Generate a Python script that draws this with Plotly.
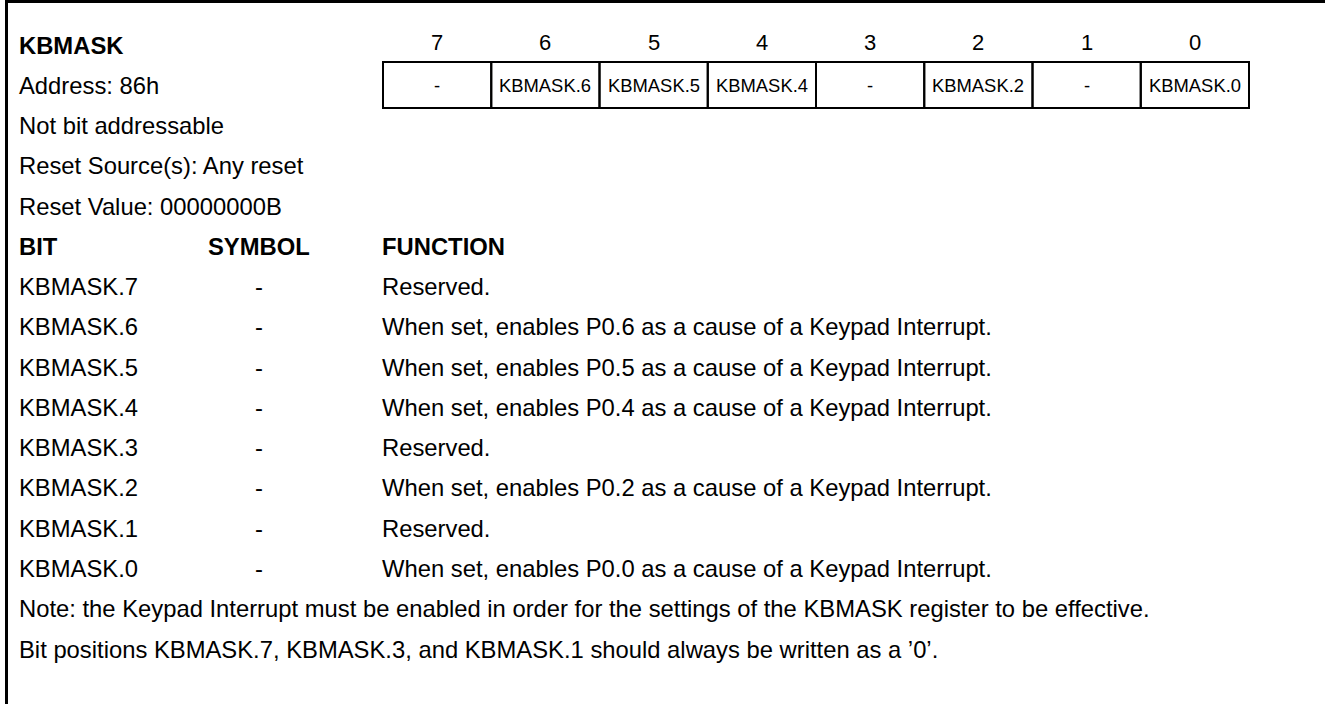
import plotly.graph_objects as go

# ---------------- data ----------------
register_name = "KBMASK"
bit_positions = ["7", "6", "5", "4", "3", "2", "1", "0"]
bit_cells = ["-", "KBMASK.6", "KBMASK.5", "KBMASK.4", "-", "KBMASK.2", "-", "KBMASK.0"]
info_lines = [
    "Address: 86h",
    "Not bit addressable",
    "Reset Source(s): Any reset",
    "Reset Value: 00000000B",
]
header_labels = ["BIT", "SYMBOL", "FUNCTION"]
bit_names = ["KBMASK.7", "KBMASK.6", "KBMASK.5", "KBMASK.4",
             "KBMASK.3", "KBMASK.2", "KBMASK.1", "KBMASK.0"]
symbols = ["-", "-", "-", "-", "-", "-", "-", "-"]
functions = [
    "Reserved.",
    "When set, enables P0.6 as a cause of a Keypad Interrupt.",
    "When set, enables P0.5 as a cause of a Keypad Interrupt.",
    "When set, enables P0.4 as a cause of a Keypad Interrupt.",
    "Reserved.",
    "When set, enables P0.2 as a cause of a Keypad Interrupt.",
    "Reserved.",
    "When set, enables P0.0 as a cause of a Keypad Interrupt.",
]
notes = [
    "Note: the Keypad Interrupt must be enabled in order for the settings of the KBMASK register to be effective.",
    "Bit positions KBMASK.7, KBMASK.3, and KBMASK.1 should always be written as a \u20190\u2019.",
]

# ---------------- layout constants ----------------
W, H = 1325, 704
FONT = "Liberation Sans, Arial, sans-serif"
FS = 23.8
ROW0 = 45.0
ROW_STEP = 40.27
LEFT = 18
SYM_X = 259
FUNC_X = 381
BOX_L, BOX_R = 383, 1249
BOX_T, BOX_B = 62, 108
CELL_W = (BOX_R - BOX_L) / len(bit_cells)


def row_y(i):
    return ROW0 + ROW_STEP * i


annotations = []
shapes = []


def txt(x, y, s, size=FS, bold=False, anchor="left"):
    annotations.append(dict(
        x=x, y=y, xref="x", yref="y", text=("<b>%s</b>" % s) if bold else s,
        showarrow=False, xanchor=anchor, yanchor="middle",
        font=dict(family=FONT, size=size, color="black"),
        borderpad=0,
    ))


# title
txt(LEFT, row_y(0), register_name, bold=True)

# bit numbers and register cells
for i, (num, cell) in enumerate(zip(bit_positions, bit_cells)):
    cx = BOX_L + CELL_W * (i + 0.5)
    txt(cx, 42, num, size=22, anchor="center")
    txt(cx, (BOX_T + BOX_B) / 2, cell, size=18.4, anchor="center")
    shapes.append(dict(type="rect", xref="x", yref="y",
                       x0=BOX_L + CELL_W * i, x1=BOX_L + CELL_W * (i + 1),
                       y0=BOX_T, y1=BOX_B, line=dict(color="black", width=2)))

# info lines
for k, s in enumerate(info_lines):
    txt(LEFT, row_y(1 + k), s)

# headers
hy = row_y(1 + len(info_lines))
txt(LEFT, hy, header_labels[0], bold=True)
txt(SYM_X, hy, header_labels[1], bold=True, anchor="center")
txt(FUNC_X, hy, header_labels[2], bold=True)

# bit rows
base = 2 + len(info_lines)
for k, (b, s, f) in enumerate(zip(bit_names, symbols, functions)):
    y = row_y(base + k)
    txt(LEFT, y, b)
    txt(SYM_X, y, s, anchor="center")
    txt(FUNC_X, y, f)

# notes
for k, s in enumerate(notes):
    txt(LEFT, row_y(base + len(bit_names) + k), s)

# outer frame (top and left edges)
shapes.append(dict(type="line", xref="x", yref="y", x0=5, x1=W, y0=1.5, y1=1.5,
                   line=dict(color="black", width=3)))
shapes.append(dict(type="line", xref="x", yref="y", x0=6.5, x1=6.5, y0=0, y1=H,
                   line=dict(color="black", width=3)))

fig = go.Figure()
fig.update_layout(
    width=W, height=H, margin=dict(l=0, r=0, t=0, b=0),
    paper_bgcolor="white", plot_bgcolor="white",
    xaxis=dict(range=[0, W], visible=False, fixedrange=True),
    yaxis=dict(range=[H, 0], visible=False, fixedrange=True),
    annotations=annotations, shapes=shapes, showlegend=False,
)
fig.write_html("out.html",
               config={"displayModeBar": False},
               post_script="document.body.style.margin='0';document.body.style.overflow='hidden';")
